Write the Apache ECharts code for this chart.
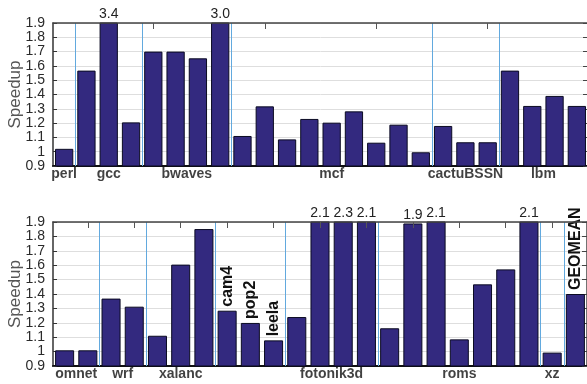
<!DOCTYPE html>
<html><head><meta charset="utf-8">
<script src="https://cdn.jsdelivr.net/npm/echarts@6/dist/echarts.min.js"></script>
<style>html,body{margin:0;padding:0;background:#fff}#c{width:587px;height:384px}</style>
</head><body><div id="c"></div>
<script>
// ---- Top panel data ----
const topGroups = ['perl', 'gcc', 'bwaves', 'mcf', 'cactuBSSN', 'lbm'];
const topGroupSizes = [1, 3, 4, 9, 3, 4];
const topValues = [1.02,
  1.567, 3.4, 1.205,
  1.70, 1.70, 1.653, 3.0,
  1.11, 1.317, 1.086, 1.229, 1.203, 1.282, 1.063, 1.189, 0.996,
  1.18, 1.066, 1.066,
  1.567, 1.32, 1.39, 1.32];
// ---- Bottom panel data ----
const bottomGroups = ['omnet', 'wrf', 'xalanc', 'cam4', 'pop2', 'leela', 'fotonik3d', 'roms', 'xz', 'GEOMEAN'];
const bottomGroupSizes = [2, 2, 3, 1, 1, 1, 4, 7, 1, 1];
const bottomValues = [1.009, 1.009,
  1.368, 1.312,
  1.11, 1.604, 1.851,
  1.284,
  1.199,
  1.078,
  1.24, 2.1, 2.3, 2.1,
  1.162, 1.89, 2.1, 1.085, 1.467, 1.571, 2.1,
  0.993,
  1.40];
// groups whose name is written vertically above their bar
const verticalLabelGroups = ['cam4', 'pop2', 'leela', 'GEOMEAN'];
// y axis
const yMin = 0.9, yMax = 1.9, yStep = 0.1;
const topTickEvery = 5, topTickPhase = 4;
const bottomTickEvery = 2, bottomTickPhase = 1;

const FONT = 'Liberation Sans, Arial, sans-serif';
const BAR = '#33297f';
const SEP = '#62a9de';

const chart = echarts.init(document.getElementById('c'), null, {renderer: 'canvas'});

const option = {
  animation: false,
  backgroundColor: '#fff',
  textStyle: {fontFamily: FONT},
  grid: [
    {left: 53, right: -1, top: 23, height: 143, outerBoundsMode: 'none', containLabel: false},
    {left: 53, right: 0, top: 222, height: 144, outerBoundsMode: 'none', containLabel: false}
  ],
  xAxis: [], yAxis: [], series: []
};

function addPanel(p, groups, sizes, values, tickEvery, tickPhase) {
  const n = values.length;
  const cats = values.map((_, i) => String(i));
  const barGroup = [];
  const starts = [];
  let acc = 0;
  sizes.forEach((s, g) => { starts.push(acc); for (let k = 0; k < s; k++) barGroup.push(g); acc += s; });
  const tickVals = [];
  for (let i = tickPhase; i < n; i += tickEvery) tickVals.push(i + 0.5);
  const xb = option.xAxis.length;
  option.xAxis.push({
    type: 'category', gridIndex: p, data: cats, position: 'bottom',
    axisLine: {show: true, lineStyle: {color: '#111', width: 2}},
    axisTick: {show: false}, axisLabel: {show: false}, splitLine: {show: false}
  });
  option.xAxis.push({
    type: 'value', gridIndex: p, min: 0, max: n, position: 'top', z: 5,
    axisLine: {show: true, lineStyle: {color: '#444', width: 1.5}},
    axisTick: {show: true, inside: true, length: 6, customValues: tickVals, lineStyle: {color: '#555', width: 1}},
    axisLabel: {show: false, customValues: tickVals}, splitLine: {show: false}
  });
  const yl = option.yAxis.length;
  option.yAxis.push({
    type: 'value', gridIndex: p, min: yMin, max: yMax, interval: yStep,
    name: 'Speedup', nameLocation: 'middle', nameGap: 29, nameMoveOverlap: false,
    nameTextStyle: {fontSize: 17, color: '#555', fontFamily: FONT},
    axisLine: {show: true, lineStyle: {color: '#333', width: 1.5}},
    axisTick: {show: true, inside: true, length: 4, lineStyle: {color: '#333'}},
    axisLabel: {fontSize: 14, color: '#2a2a2a', margin: 8, fontFamily: FONT},
    splitLine: {show: true, lineStyle: {color: '#dedede', width: 1}}
  });
  option.yAxis.push({
    type: 'value', gridIndex: p, min: yMin, max: yMax, interval: yStep, position: 'right',
    axisLine: {show: true, lineStyle: {color: '#444', width: 1.5}},
    axisTick: {show: true, inside: true, length: 5, lineStyle: {color: '#444'}},
    axisLabel: {show: false}, splitLine: {show: false}
  });
  const data = values.map((v, i) => {
    const gname = groups[barGroup[i]];
    const item = {value: v};
    if (verticalLabelGroups.includes(gname)) {
      item.label = {show: true, position: 'top', rotate: 90, align: 'left', verticalAlign: 'middle',
        distance: 4, formatter: gname, fontWeight: 'bold', fontSize: 16, color: '#111', fontFamily: FONT};
    } else if (v >= 1.88) {
      item.label = {show: true, position: 'top', distance: 1, formatter: v.toFixed(1),
        fontSize: 14, color: '#222', fontFamily: FONT};
    }
    return item;
  });
  option.series.push({
    type: 'bar', xAxisIndex: xb, yAxisIndex: yl, data: data, clip: true,
    barCategoryGap: '18%',
    itemStyle: {color: BAR, borderColor: '#0b0b22', borderWidth: 1},
    label: {show: false}, z: 3
  });
  const seps = [];
  for (let g = 1; g < groups.length; g++) {
    if (verticalLabelGroups.includes(groups[g]) && verticalLabelGroups.includes(groups[g - 1])) continue;
    seps.push(starts[g]);
  }
  const labelPts = [];
  groups.forEach((gname, g) => {
    if (verticalLabelGroups.includes(gname)) return;
    labelPts.push({value: [starts[g] + sizes[g] / 2, yMin], name: gname});
  });
  option.series.push({
    type: 'scatter', xAxisIndex: xb + 1, yAxisIndex: yl, data: labelPts, clip: false,
    symbolSize: 1, itemStyle: {color: 'rgba(0,0,0,0)'}, silent: true, z: 2,
    label: {show: true, position: 'bottom', distance: 1, formatter: (pp) => pp.name,
      fontWeight: 'bold', fontSize: 14, color: '#111', fontFamily: FONT},
    markLine: {silent: true, symbol: ['none', 'none'], label: {show: false},
      lineStyle: {type: 'solid', color: SEP, width: 1}, emphasis: {disabled: true},
      data: seps.map(s => ({xAxis: s}))}
  });
}

addPanel(0, topGroups, topGroupSizes, topValues, topTickEvery, topTickPhase);
addPanel(1, bottomGroups, bottomGroupSizes, bottomValues, bottomTickEvery, bottomTickPhase);
chart.setOption(option);
</script>
</body></html>
